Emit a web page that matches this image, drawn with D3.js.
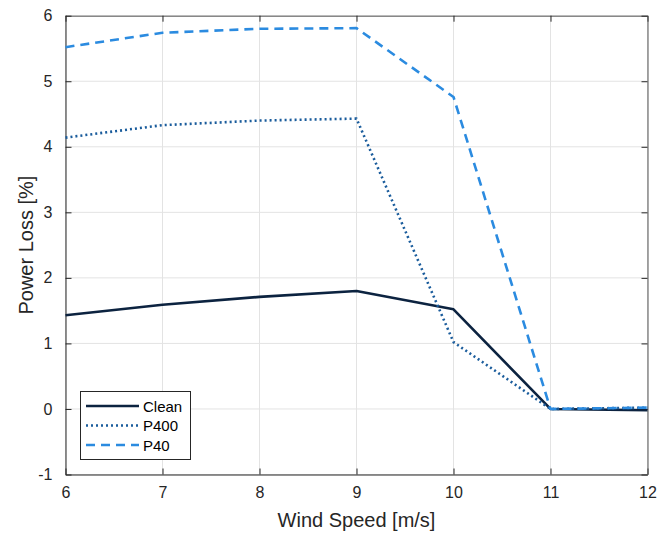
<!DOCTYPE html>
<html><head><meta charset="utf-8">
<script src="https://cdn.jsdelivr.net/npm/d3@7"></script>
<style>body{margin:0;background:#fff}svg{display:block}text{font-family:"Liberation Sans",Arial,sans-serif}</style>
</head><body>
<svg id="c" width="667" height="534"></svg>
<script>
const windSpeed = [6, 7, 8, 9, 10, 11, 12];
const clean = [1.43, 1.59, 1.71, 1.80, 1.52, 0.0, -0.02];
const p400 = [4.14, 4.33, 4.40, 4.43, 1.02, 0.0, 0.02];
const p40 = [5.52, 5.74, 5.80, 5.81, 4.76, 0.0, 0.02];
const xTicks = [6, 7, 8, 9, 10, 11, 12];
const yTicks = [-1, 0, 1, 2, 3, 4, 5, 6];
const seriesNames = ["Clean", "P400", "P40"];

const series = [
  {name: seriesNames[0], vals: clean, color: "#0c2340", dash: null, w: 2.6},
  {name: seriesNames[1], vals: p400, color: "#1a5c9c", dash: "2,3", w: 2.6},
  {name: seriesNames[2], vals: p40, color: "#2b8be0", dash: "9,6", w: 2.6}
];

const L = 65.5, R = 647.5, T = 15.7, B = 474.5;
const x = d3.scaleLinear().domain([6, 12]).range([L, R]);
const y = d3.scaleLinear().domain([-1, 6]).range([B, T]);
const svg = d3.select("#c");

// grid
svg.append("g").selectAll("line").data(xTicks).join("line")
  .attr("x1", d => x(d)).attr("x2", d => x(d)).attr("y1", T).attr("y2", B)
  .attr("stroke", "#e3e3e3").attr("stroke-width", 1);
svg.append("g").selectAll("line").data(yTicks).join("line")
  .attr("y1", d => y(d)).attr("y2", d => y(d)).attr("x1", L).attr("x2", R)
  .attr("stroke", "#e3e3e3").attr("stroke-width", 1);

const fmt = d => String(d);
// axes
const xa = svg.append("g").attr("transform", `translate(0,${B})`)
  .call(d3.axisBottom(x).tickValues(xTicks).tickSizeInner(-6).tickSizeOuter(0).tickPadding(12).tickFormat(fmt));
const xt = svg.append("g").attr("transform", `translate(0,${T})`)
  .call(d3.axisTop(x).tickValues(xTicks).tickSizeInner(-6).tickSizeOuter(0).tickFormat(""));
const ya = svg.append("g").attr("transform", `translate(${L},0)`)
  .call(d3.axisLeft(y).tickValues(yTicks).tickSizeInner(-6).tickSizeOuter(0).tickPadding(13).tickFormat(fmt));
const yr = svg.append("g").attr("transform", `translate(${R},0)`)
  .call(d3.axisRight(y).tickValues(yTicks).tickSizeInner(-6).tickSizeOuter(0).tickFormat(""));
[xa, xt, ya, yr].forEach(g => {
  g.attr("font-family", "Liberation Sans, Arial, sans-serif").attr("font-size", 16);
  g.select(".domain").attr("stroke", "#262626").attr("stroke-width", 1);
  g.selectAll(".tick line").attr("stroke", "#262626");
  g.selectAll(".tick text").attr("fill", "#262626").style("font-size", "16px");
});
[xt, yr].forEach(g => g.select(".domain").attr("stroke", "#555"));

// lines
const line = d3.line().x((d, i) => x(windSpeed[i])).y(d => y(d));
series.forEach(s => {
  svg.append("path").datum(s.vals).attr("d", line)
    .attr("fill", "none").attr("stroke", s.color).attr("stroke-width", s.w)
    .attr("stroke-dasharray", s.dash).attr("stroke-linejoin", "round");
});

// labels
svg.append("text").attr("x", (L + R) / 2).attr("y", 527).attr("text-anchor", "middle")
  .attr("fill", "#262626").style("font-size", "20px").text("Wind Speed [m/s]");
svg.append("text").attr("transform", `translate(33,${(T + B) / 2}) rotate(-90)`).attr("text-anchor", "middle")
  .attr("fill", "#262626").style("font-size", "20px").text("Power Loss [%]");

// legend
const lg = svg.append("g");
lg.append("rect").attr("x", 80.5).attr("y", 391.5).attr("width", 110).attr("height", 68)
  .attr("fill", "#fff").attr("stroke", "#262626").attr("stroke-width", 1);
series.forEach((s, i) => {
  const yy = 406 + i * 19.5;
  lg.append("line").attr("x1", 86).attr("x2", 139).attr("y1", yy).attr("y2", yy)
    .attr("stroke", s.color).attr("stroke-width", s.w).attr("stroke-dasharray", s.dash);
  lg.append("text").attr("x", 143).attr("y", yy + 5.5).attr("fill", "#000")
    .style("font-size", "15px").text(s.name);
});
</script>
</body></html>
